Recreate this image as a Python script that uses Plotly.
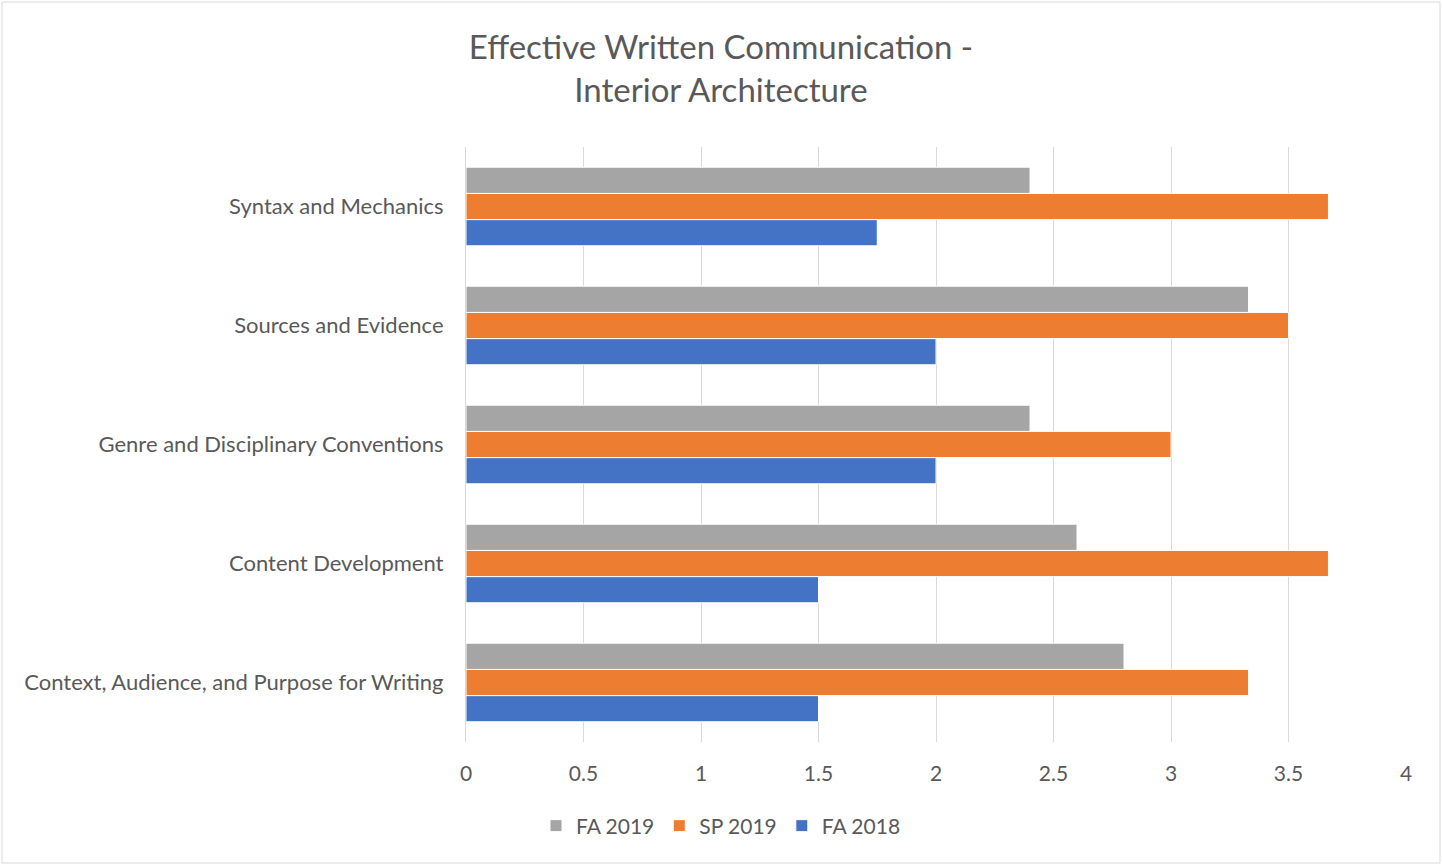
import plotly.graph_objects as go

categories = [
    "Context, Audience, and Purpose for Writing",
    "Content Development",
    "Genre and Disciplinary Conventions",
    "Sources and Evidence",
    "Syntax and Mechanics",
]
fa2018 = [1.5, 1.5, 2.0, 2.0, 1.75]
sp2019 = [3.33, 3.67, 3.0, 3.5, 3.67]
fa2019 = [2.8, 2.6, 2.4, 3.33, 2.4]
series_names = ["FA 2018", "SP 2019", "FA 2019"]
colors = ["#4472C4", "#ED7D31", "#A5A5A5"]
tick_vals = [0, 0.5, 1, 1.5, 2, 2.5, 3, 3.5, 4]
tick_text = ["0", "0.5", "1", "1.5", "2", "2.5", "3", "3.5", "4"]

W, H = 1442, 865
L, R, T, B = 466, 36, 147, 123
FONT = "Lato"
TXT = "#595959"

fig = go.Figure()
for name, vals, col in zip(series_names, [fa2018, sp2019, fa2019], colors):
    fig.add_trace(go.Bar(
        y=categories, x=vals, name=name, orientation="h",
        marker=dict(color=col, line=dict(color="white", width=1)),
    ))

pw = W - L - R
ph = H - T - B
fig.add_shape(type="rect", xref="paper", yref="paper",
              x0=-(L - 2) / pw, x1=1 + (R - 2) / pw,
              y0=-(B - 2) / ph, y1=1 + (T - 2) / ph,
              line=dict(color="#D9D9D9", width=1), layer="below")

fig.update_layout(
    width=W, height=H,
    margin=dict(l=L, r=R, t=T, b=B),
    paper_bgcolor="white", plot_bgcolor="white",
    font=dict(family=FONT, color=TXT, size=22),
    title=dict(text="Effective Written Communication -<br>Interior Architecture",
               x=0.5, xref="container", xanchor="center",
               y=1 - 59 / H, yref="container", yanchor="top",
               font=dict(size=33, color=TXT, family=FONT)),
    barmode="group", bargap=0.34, bargroupgap=0,
    showlegend=True,
    legend=dict(orientation="h", xref="container", x=0.5, xanchor="center",
                yref="container", y=1 - 826 / H, yanchor="middle",
                traceorder="reversed", font=dict(size=21, color=TXT),
                itemwidth=30, tracegroupgap=0),
    xaxis=dict(range=[0, 4], tickvals=tick_vals, ticktext=tick_text,
               showgrid=True, gridcolor="#D9D9D9", gridwidth=1.2,
               zeroline=False, showline=False, ticks="", ticklabelstandoff=17,
               tickfont=dict(size=21, color=TXT)),
    yaxis=dict(showgrid=False, zeroline=False, showline=True,
               linecolor="#D9D9D9", linewidth=1.2, ticks="",
               ticklabelstandoff=17, tickfont=dict(size=22, color=TXT)),
)

fig.write_html("out.html", config={"displayModeBar": False},
               post_script="document.body.style.margin='0';")
